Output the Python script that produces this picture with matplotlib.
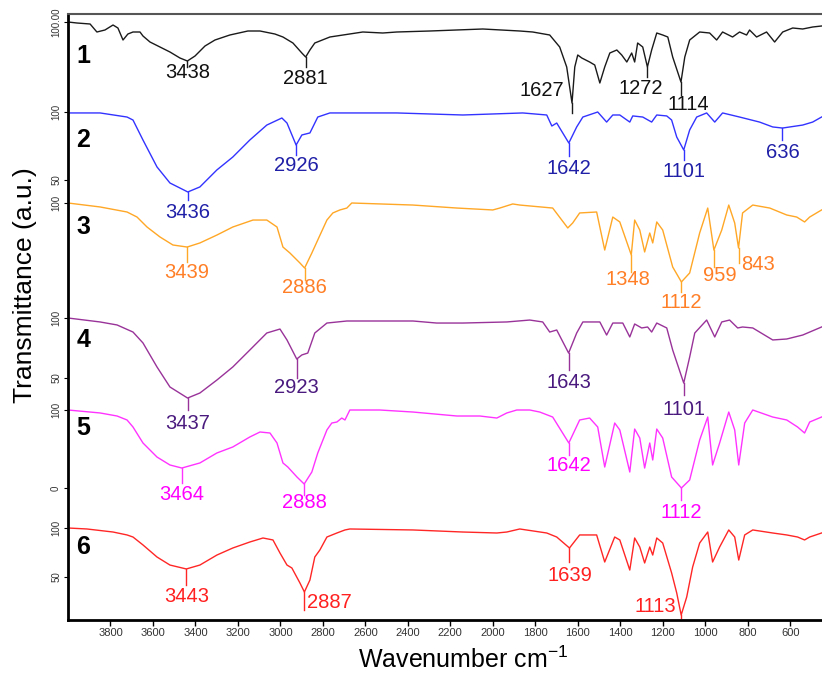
import numpy as np
import matplotlib
matplotlib.use("Agg")
import matplotlib.pyplot as plt

plt.rcParams['font.family'] = ['Liberation Sans', 'DejaVu Sans']

# ---- spectra (wavenumber cm-1, transmittance in each trace's own scale) ----
wn1 = [4000, 3958, 3896, 3864, 3826, 3788, 3765, 3741, 3718, 3694, 3661, 3647, 3614, 3567,
       3520, 3473, 3438, 3402, 3355, 3308, 3238, 3153, 3096, 3026, 2988, 2941, 2899, 2881,
       2861, 2838, 2767, 2612, 2518, 2452, 2296, 2047, 1873, 1812, 1732, 1685, 1652, 1627,
       1614, 1600, 1581, 1544, 1520, 1496, 1473, 1449, 1416, 1393, 1369, 1346, 1332, 1318,
       1294, 1272, 1252, 1228, 1200, 1176, 1153, 1114, 1096, 1073, 1026, 979, 946, 918, 871,
       838, 805, 791, 758, 711, 673, 635, 588, 541, 494, 452]
t1 = [100, 99, 98, 90, 92, 97, 94, 82, 88, 90, 90, 86, 80, 75, 70, 64, 61, 66, 76, 82, 87, 91,
      91, 88, 85, 79, 69, 65, 72, 79, 85, 90, 89, 90, 91, 93, 91, 90, 87, 75, 55, 19, 55, 67,
      64, 60, 57, 39, 55, 69, 72, 67, 60, 69, 60, 79, 75, 55, 72, 89, 87, 85, 65, 40, 65, 82,
      90, 89, 82, 90, 85, 90, 87, 92, 85, 90, 80, 90, 94, 93, 95, 96]

wn2 = [4000, 3849, 3722, 3694, 3647, 3581, 3520, 3436, 3379, 3299, 3224, 3144, 3064, 2993,
       2969, 2926, 2899, 2861, 2847, 2824, 2767, 2452, 2141, 1859, 1746, 1722, 1699, 1642,
       1605, 1576, 1506, 1464, 1435, 1402, 1355, 1341, 1294, 1252, 1228, 1181, 1158, 1134,
       1101, 1073, 1040, 993, 955, 918, 838, 744, 682, 636, 541, 494, 452]
t2 = [99.3, 99.3, 96.3, 94.1, 79.4, 59.6, 47.8, 41.2, 44.9, 57.4, 66.9, 79.4, 90.4, 95.6, 91.9,
      75.7, 83.1, 84.6, 89, 96.3, 99.3, 99.3, 97.8, 99.3, 97.8, 89.7, 91.9, 77.2, 89, 96.3,
      100, 92.6, 97.8, 97.8, 92.6, 97.1, 96.3, 92.6, 97.8, 97.1, 94.1, 81.6, 72.1, 86.8, 96.3,
      99.3, 92.6, 99.3, 96.3, 92.6, 89, 88.2, 90.4, 92.6, 96.3]

wn3 = [4000, 3849, 3722, 3675, 3628, 3567, 3506, 3439, 3379, 3299, 3224, 3129, 3064, 3016,
       2988, 2955, 2908, 2886, 2852, 2824, 2781, 2753, 2720, 2687, 2664, 2376, 2169, 2000,
       1967, 1906, 1873, 1718, 1647, 1624, 1591, 1511, 1473, 1435, 1402, 1348, 1332, 1308,
       1285, 1261, 1247, 1228, 1200, 1153, 1112, 1073, 1026, 988, 959, 922, 889, 861, 843,
       824, 776, 696, 616, 569, 532, 508, 452]
t3 = [100, 96.7, 92.5, 88.3, 80, 71.7, 65, 63.3, 66.7, 73.3, 80, 85.8, 85.8, 80, 63.3, 58.3,
      50, 45.8, 58.3, 69.2, 85.8, 91.7, 94.2, 95.8, 100, 98.3, 95.8, 94.2, 95.8, 99.2, 98.3,
      95.8, 79.2, 83.3, 91.7, 92.5, 60.8, 88.3, 84.2, 56.7, 85.8, 77.5, 59.2, 75, 66.7, 84.2,
      77.5, 46.7, 34.2, 41.7, 75, 95.8, 60.8, 77.5, 98.3, 83.3, 62.5, 91.7, 98.3, 95.8, 90,
      88.3, 84.2, 88.3, 94.2]

wn4 = [4000, 3849, 3769, 3694, 3647, 3581, 3520, 3437, 3379, 3299, 3224, 3144, 3064, 3002,
       2969, 2923, 2899, 2871, 2838, 2781, 2687, 2376, 2264, 2141, 1934, 1826, 1765, 1732,
       1699, 1643, 1605, 1576, 1496, 1464, 1435, 1388, 1355, 1332, 1299, 1271, 1252, 1228,
       1181, 1153, 1101, 1073, 1049, 993, 955, 922, 885, 847, 824, 776, 682, 616, 541, 452]
t4 = [100, 96.7, 94.2, 88.3, 79.2, 59.2, 42.5, 33.3, 37.5, 48.3, 59.2, 73.3, 87.5, 90.8, 81.7,
      65.8, 69.2, 70.8, 87.5, 95.8, 97.5, 97.5, 95.8, 95.8, 96.7, 98.3, 96.7, 88.3, 90, 70.8,
      87.5, 96.7, 96.7, 85.8, 95.8, 95.8, 84.2, 95, 91.7, 92.5, 88.3, 95.8, 91.7, 73.3, 45.8,
      67.5, 87.5, 98.3, 84.2, 96.7, 98.3, 91.7, 92.5, 91.7, 81.7, 82.5, 85.8, 92.5]

wn5 = [4000, 3849, 3769, 3722, 3694, 3647, 3581, 3520, 3464, 3379, 3299, 3224, 3144, 3096,
       3049, 3016, 2988, 2965, 2922, 2888, 2852, 2824, 2781, 2758, 2734, 2711, 2696, 2673,
       2532, 2376, 2169, 2061, 1981, 1934, 1887, 1826, 1779, 1718, 1642, 1591, 1544, 1506,
       1473, 1426, 1402, 1355, 1332, 1308, 1285, 1261, 1247, 1228, 1200, 1158, 1112, 1073,
       1026, 988, 965, 932, 889, 861, 842, 814, 776, 682, 616, 565, 532, 508, 452]
t5 = [100, 96.2, 92.3, 87.2, 78.2, 57.7, 39.7, 29.5, 25.6, 32.1, 44.9, 52.6, 65.4, 71.8, 70.5,
      57.7, 32.1, 26.9, 14.1, 5.1, 20.5, 44.9, 74.4, 83.3, 84.6, 89.7, 87.2, 100, 100, 97.4,
      92.3, 92.3, 89.7, 96.2, 100, 100, 97.4, 91, 57.7, 87.2, 89.7, 78.2, 26.9, 83.3, 74.4,
      20.5, 75.6, 64.1, 25.6, 57.7, 35.9, 75.6, 64.1, 14.1, 0, 10.3, 61.5, 91, 29.5, 57.7,
      97.4, 74.4, 29.5, 83.3, 100, 91, 87.2, 78.2, 70.5, 84.6, 91]

wn6 = [4000, 3911, 3788, 3722, 3694, 3647, 3581, 3520, 3443, 3379, 3299, 3224, 3144, 3082,
       3035, 3002, 2969, 2946, 2908, 2887, 2861, 2838, 2814, 2781, 2734, 2696, 2673, 2376,
       2141, 1981, 1934, 1873, 1746, 1699, 1639, 1591, 1511, 1473, 1426, 1402, 1355, 1332,
       1308, 1285, 1261, 1247, 1228, 1200, 1158, 1134, 1113, 1087, 1059, 1026, 988, 965, 932,
       889, 861, 842, 814, 776, 682, 616, 565, 532, 508, 452]
t6 = [100, 99, 95.9, 92.9, 90.8, 82.7, 70.4, 62.2, 58.2, 62.2, 72.4, 79.6, 85.7, 89.8, 87.8,
      74.5, 62.2, 59.2, 43.9, 34.7, 46.9, 70.4, 77.6, 90.8, 94.9, 98, 99, 98, 95.9, 94.9,
      95.9, 99, 94.9, 90.8, 79.6, 92.9, 92.9, 65.3, 90.8, 87.8, 57.1, 89.8, 80.6, 64.3, 80.6,
      72.4, 89.8, 84.7, 54.1, 33.7, 11.2, 29.6, 60.2, 84.7, 95.9, 65.3, 80.6, 98, 90.8, 67.3,
      92.9, 98, 94.9, 92.9, 90.8, 87.8, 90.8, 94.9]

# labelled peaks of each trace
peaks1 = [3438, 2881, 1627, 1272, 1114]
peaks2 = [3436, 2926, 1642, 1101, 636]
peaks3 = [3439, 2886, 1348, 1112, 959, 843]
peaks4 = [3437, 2923, 1643, 1101]
peaks5 = [3464, 2888, 1642, 1112]
peaks6 = [3443, 2887, 1639, 1113]

trace_names = ['1', '2', '3', '4', '5', '6']
ytick_vals = [[100], [100, 50], [100], [100, 50], [100, 0], [100, 50]]
xticks = list(range(3800, 500, -200))

# ---- layout (pixel-like vertical units, 0 at image top) ----
base = [22, 112, 203, 318, 410, 528]          # where T = 100 sits
scale = [1.0, 1.36, 1.2, 1.2, 0.78, 0.98]      # px per transmittance unit
name_y = [56, 140, 227, 340, 428, 547]
line_colors = ['#1a1a1a', '#3333ff', '#ffa726', '#993399', '#ff33ff', '#ff2626']
text_colors = ['#111111', '#1f1fa8', '#ff7f27', '#4a1a7e', '#ff00ff', '#ff2020']

# per label: (tick length, dx px, dy px below minimum, ha)
lab_layout = [
    [(6, 0, 12, 'center'), (10, 0, 21, 'center'), (10, -8, -13, 'right'),
     (10, -7, 21, 'center'), (13, 7, 23, 'center')],
    [(8, 0, 21, 'center'), (10, 0, 20, 'center'), (13, 0, 25, 'center'),
     (10, 0, 22, 'center'), (12, 0, 24, 'center')],
    [(15, 0, 25, 'center'), (12, 0, 19, 'center'), (17, -3, 25, 'center'),
     (10, 0, 21, 'center'), (17, 6, 25, 'center'), (15, 3, 17, 'left')],
    [(12, 0, 25, 'center'), (19, 0, 28, 'center'), (17, 0, 29, 'center'),
     (12, 0, 26, 'center')],
    [(15, 0, 26, 'center'), (11, 0, 18, 'center'), (12, 0, 23, 'center'),
     (12, 0, 24, 'center')],
    [(16, 0, 28, 'center'), (18, 3, 11, 'left'), (14, 0, 28, 'center'),
     (3, -5, -9, 'right')],
]

spectra = [(wn1, t1), (wn2, t2), (wn3, t3), (wn4, t4), (wn5, t5), (wn6, t6)]
peaks = [peaks1, peaks2, peaks3, peaks4, peaks5, peaks6]

W, H = 822, 673
fig = plt.figure(figsize=(W / 100, H / 100), dpi=100)
ax = fig.add_axes([68 / W, (H - 620) / H, (W - 68) / W, (620 - 14) / H])

ytick_pos, ytick_lab = [], []
for i, (wn, tt) in enumerate(spectra):
    wn = np.array(wn, dtype=float)
    yy = base[i] + (100 - np.array(tt, dtype=float)) * scale[i]
    ax.plot(wn, yy, color=line_colors[i], lw=1.0)

    for v in ytick_vals[i]:
        ytick_pos.append(base[i] + (100 - v) * scale[i])
        ytick_lab.append('100.00' if i == 0 else str(v))

    for p, (L, dx, dy, ha) in zip(peaks[i], lab_layout[i]):
        ymin = np.interp(p, wn[::-1], yy[::-1])
        ax.plot([p, p], [ymin, ymin + L], color=line_colors[i], lw=1.0)
        ax.annotate(str(p), xy=(p, ymin), xytext=(dx, -dy), textcoords='offset pixels',
                    ha=ha, va='center', color=text_colors[i], fontsize=14.5)

    ax.text(3928, name_y[i], trace_names[i], fontsize=18, fontweight='bold',
            ha='center', va='center', color='black')

ax.set_xlim(4000, 450)
ax.set_ylim(620, 14)
ax.set_xticks(xticks)
ax.set_xticklabels([str(x) for x in xticks], fontsize=8, color='#333333')
ax.set_yticks(ytick_pos)
ax.set_yticklabels(ytick_lab, fontsize=7, rotation=90, va='center', color='#333333')
ax.tick_params(axis='x', direction='out', length=4, width=1, pad=2)
ax.tick_params(axis='y', direction='out', length=3, width=0.8, pad=2)

ax.spines['right'].set_visible(False)
ax.spines['top'].set_color('#555555')
ax.spines['top'].set_linewidth(1.5)
ax.spines['left'].set_linewidth(2)
ax.spines['bottom'].set_linewidth(2)

fig.text(25 / W, 1 - 285 / H, 'Transmittance (a.u.)', rotation=90, fontsize=19,
         ha='center', va='center')
fig.text(463 / W, 1 - 660 / H, r'Wavenumber cm$^{\mathregular{-1}}$', fontsize=18,
         ha='center', va='center')

fig.savefig('out.png', dpi=100)
